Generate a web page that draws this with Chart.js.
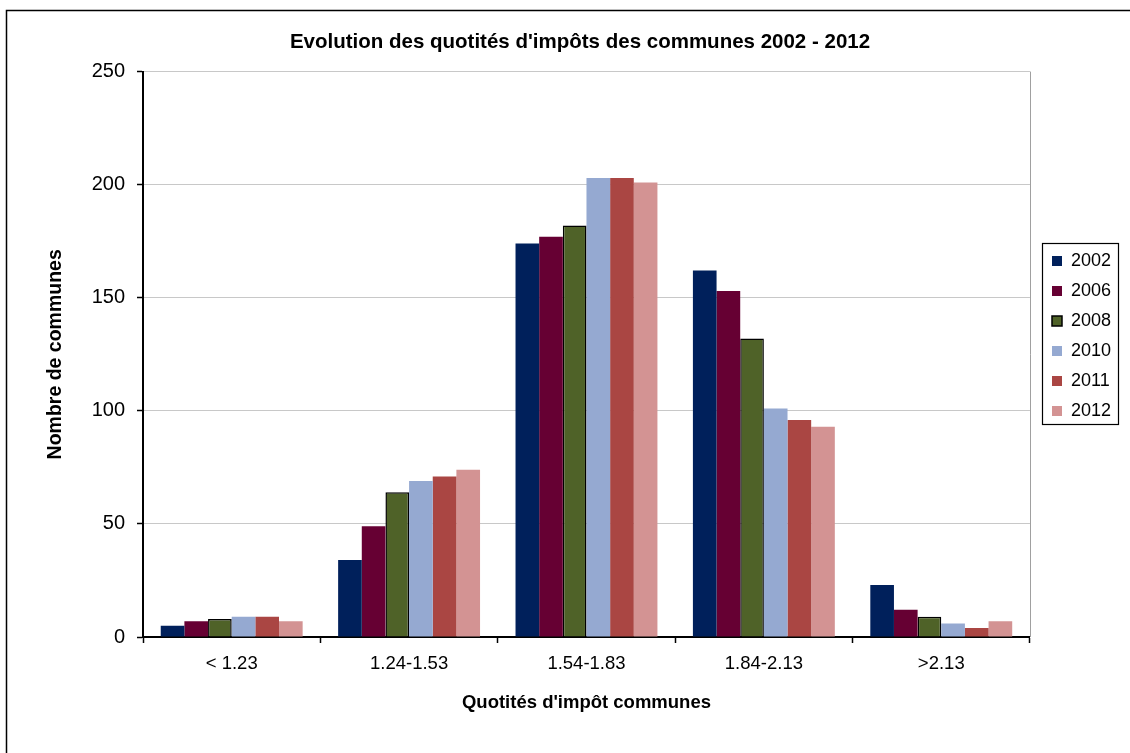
<!DOCTYPE html>
<html>
<head>
<meta charset="utf-8">
<title>Evolution des quotités d'impôts des communes 2002 - 2012</title>
<script src="https://cdn.jsdelivr.net/npm/chart.js@4/dist/chart.umd.min.js"></script>
<style>
  html, body { margin: 0; padding: 0; background: #fff; }
  canvas { display: block; }
</style>
</head>
<body>
<canvas id="chart" width="1130" height="753"></canvas>
<script>
// ----------------- DATA -----------------
const categories = ['< 1.23', '1.24-1.53', '1.54-1.83', '1.84-2.13', '>2.13'];
const years = ['2002', '2006', '2008', '2010', '2011', '2012'];

const v2002 = [5, 34, 174, 162, 23];
const v2006 = [7, 49, 177, 153, 12];
const v2008 = [8, 64, 182, 132, 9];
const v2010 = [9, 69, 203, 101, 6];
const v2011 = [9, 71, 203, 96, 4];
const v2012 = [7, 74, 201, 93, 7];

const yTicks = [0, 50, 100, 150, 200, 250];

// couleurs (style Excel 2007)
const colors = ['#00205B', '#660033', '#4F6228', '#95A9D1', '#AA4643', '#D39393'];
const series = [v2002, v2006, v2008, v2010, v2011, v2012];

const FONT = "'Liberation Sans', Arial, sans-serif";
Chart.defaults.font.family = FONT;
Chart.defaults.color = '#000';

// cadre autour du graphique, de la zone de tracé et de la légende
const framePlugin = {
  id: 'frames',
  beforeDraw(chart) {
    const lg = chart.legend;
    if (lg) {
      // place la légende comme dans Excel
      lg.left = 1040;
      lg.right = lg.left + lg.width;
      lg.top = 240;
      lg.bottom = 700;
    }
    const tb = chart.titleBlock;
    if (tb) {
      // titre un peu décalé vers la droite (centré sur le graphique sans légende)
      tb.left = 30;
      tb.right = 1130;
    }
  },
  afterDraw(chart) {
    const ctx = chart.ctx;
    const a = chart.chartArea;
    ctx.save();
    // bord droit de la zone de tracé (gris)
    ctx.strokeStyle = '#A0A0A0';
    ctx.lineWidth = 1;
    ctx.beginPath();
    ctx.moveTo(Math.round(a.right) + 0.5, a.top);
    ctx.lineTo(Math.round(a.right) + 0.5, a.bottom);
    ctx.stroke();
    // cadre de la légende
    ctx.strokeStyle = '#000';
    ctx.lineWidth = 1.2;
    ctx.strokeRect(1042.5, 243.5, 76, 181);
    // cadre extérieur
    ctx.lineWidth = 1.5;
    ctx.strokeRect(6.5, 10.5, 1200, 800);
    ctx.restore();
  }
};

const ctx = document.getElementById('chart').getContext('2d');
new Chart(ctx, {
  type: 'bar',
  data: {
    labels: categories,
    datasets: years.map((y, i) => ({
      label: y,
      data: series[i],
      backgroundColor: colors[i],
      borderColor: i === 2 ? '#000' : colors[i],
      borderWidth: i === 2 ? 1.5 : 0,
      categoryPercentage: 0.8,
      barPercentage: 1.0
    }))
  },
  options: {
    responsive: false,
    animation: false,
    layout: { padding: { left: 0, right: 19, top: 0, bottom: 16 } },
    plugins: {
      title: {
        display: true,
        text: "Evolution des quotités d'impôts des communes 2002 - 2012",
        font: { size: 20.5, weight: 'bold', family: FONT },
        color: '#000',
        padding: { top: 30, bottom: 17 }
      },
      legend: {
        position: 'right',
        align: 'start',
        labels: {
          font: { size: 18, family: FONT },
          color: '#000',
          boxWidth: 10,
          boxHeight: 10,
          padding: 12
        }
      },
      tooltip: { enabled: false }
    },
    scales: {
      x: {
        grid: {
          offset: true,
          drawOnChartArea: false,
          tickLength: 6,
          tickColor: '#000',
          tickWidth: 1.5
        },
        border: { display: true, color: '#000', width: 2 },
        ticks: { font: { size: 18.5, family: FONT }, color: '#000', padding: 10, maxRotation: 0 },
        title: {
          display: true,
          text: "Quotités d'impôt communes",
          font: { size: 18.5, weight: 'bold', family: FONT },
          color: '#000',
          padding: { top: 0, bottom: 23 }
        },
        afterFit(scale) { scale.height = 100; }
      },
      y: {
        min: 0,
        max: 250,
        afterBuildTicks(scale) { scale.ticks = yTicks.map(v => ({ value: v })); },
        grid: {
          color: '#C8C8C8',
          lineWidth: 1,
          tickLength: 6,
          tickColor: '#000',
          tickWidth: 1.5
        },
        border: { display: true, color: '#000', width: 2 },
        ticks: { font: { size: 20, family: FONT }, color: '#000', padding: 12 },
        title: {
          display: true,
          text: 'Nombre de communes',
          font: { size: 19.5, weight: 'bold', family: FONT },
          color: '#000',
          padding: { top: 44, bottom: 0 }
        },
        afterFit(scale) { scale.width = 143; }
      }
    }
  },
  plugins: [framePlugin]
});
</script>
</body>
</html>
